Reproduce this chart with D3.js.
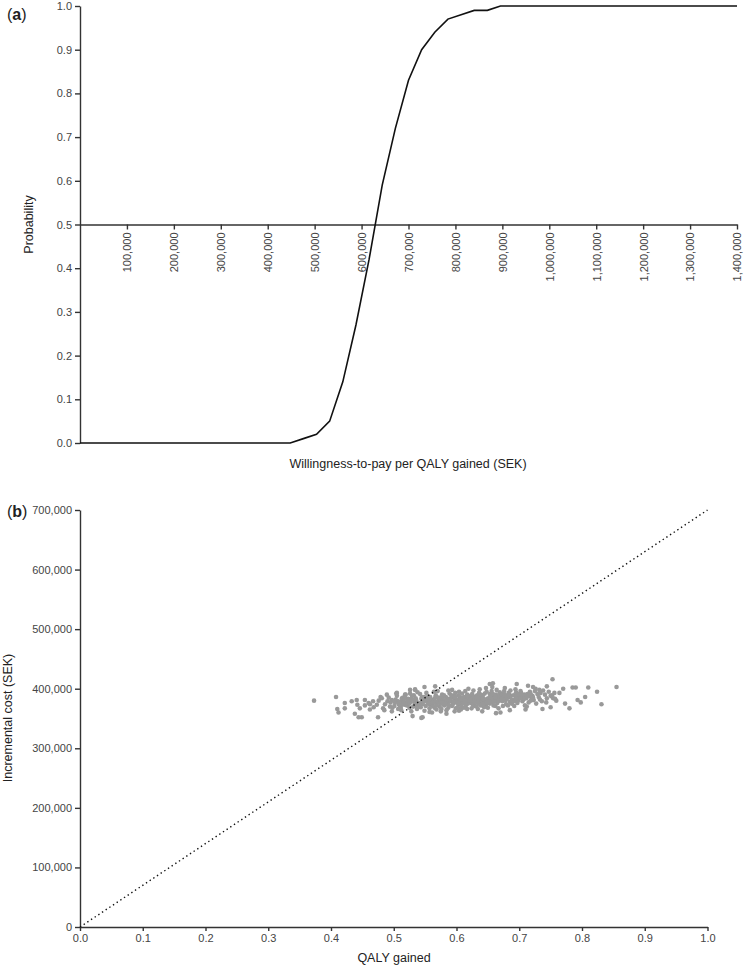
<!DOCTYPE html>
<html>
<head>
<meta charset="utf-8">
<script src="https://cdn.jsdelivr.net/npm/d3@7"></script>
<style>
  body { margin: 0; background: #fff; }
  svg { display: block; font-family: "Liberation Sans", Arial, sans-serif; }
  .axis path, .axis line { stroke: #333; stroke-width: 1.4; }
  .axis text { fill: #444; font-size: 11px; }
  .lbl { fill: #222; font-size: 12.5px; }
</style>
</head>
<body>
<script>
// Panel (a): acceptability curve
var wtp = [0, 28000, 56000, 84000, 112000, 140000, 168000, 196000, 224000, 252000,
  280000, 308000, 336000, 364000, 392000, 420000, 448000, 476000, 504000, 532000,
  560000, 588000, 616000, 644000, 672000, 700000, 728000, 756000, 784000, 812000,
  840000, 868000, 896000, 924000, 952000, 980000, 1008000, 1036000, 1064000, 1092000,
  1120000, 1148000, 1176000, 1204000, 1232000, 1260000, 1288000, 1316000, 1344000, 1372000, 1400000];
var probability = [0, 0, 0, 0, 0, 0, 0, 0, 0, 0,
  0, 0, 0, 0, 0, 0, 0, 0.01, 0.02, 0.05,
  0.14, 0.27, 0.42, 0.59, 0.72, 0.83, 0.90, 0.94, 0.97, 0.98,
  0.99, 0.99, 1, 1, 1, 1, 1, 1, 1, 1,
  1, 1, 1, 1, 1, 1, 1, 1, 1, 1, 1];
var wtpTicks = [100000, 200000, 300000, 400000, 500000, 600000, 700000,
  800000, 900000, 1000000, 1100000, 1200000, 1300000, 1400000];
var probTicks = [0, 0.1, 0.2, 0.3, 0.4, 0.5, 0.6, 0.7, 0.8, 0.9, 1.0];

// Panel (b): cost-effectiveness plane, [QALY gained, incremental cost in thousands SEK]
var qalyTicks = [0, 0.1, 0.2, 0.3, 0.4, 0.5, 0.6, 0.7, 0.8, 0.9, 1.0];
var costTicks = [0, 100000, 200000, 300000, 400000, 500000, 600000, 700000];
var threshold = [[0, 0], [1, 700000]];
var simOutliers = [
  [0.373,380],[0.408,386],[0.410,366],[0.412,360],[0.422,376],[0.422,367],[0.433,379],[0.441,381],
  [0.442,373],[0.446,367],[0.438,358],[0.444,352],[0.449,352],[0.454,381],[0.454,372],[0.460,376],
  [0.462,365],[0.467,379],[0.473,373],[0.475,352],[0.481,384],[0.483,367],[0.489,390],[0.490,379],
  [0.494,370],[0.497,362],[0.497,381],[0.505,393],[0.507,379],[0.513,384],[0.510,370],[0.518,390],
  [0.526,398],[0.534,398],[0.530,354],[0.544,351],[0.549,403],[0.534,399],[0.566,404],[0.546,352],
  [0.561,360],[0.584,358],[0.604,363],[0.641,362],[0.653,408],[0.658,409],[0.663,359],[0.670,360],
  [0.685,364],[0.696,408],[0.710,365],[0.714,405],[0.722,403],[0.732,398],[0.737,366],[0.744,404],
  [0.750,369],[0.750,388],[0.754,384],[0.757,383],[0.753,416],[0.764,393],[0.770,400],[0.773,375],
  [0.780,367],[0.785,402],[0.790,402],[0.793,381],[0.798,377],[0.805,386],[0.810,402],[0.824,395],
  [0.831,374],[0.855,403],[0.462,374],[0.468,369],[0.476,380],[0.479,386],[0.486,374],[0.492,385],
  [0.495,377],[0.498,368],[0.485,364]
];
var simCore = [
  [0.501,371],[0.503,382],[0.505,388],[0.507,366],[0.502,377],[0.508,374],[0.504,392],
  [0.511,369],[0.513,379],[0.515,385],[0.517,373],[0.519,390],[0.512,364],[0.516,381],[0.518,376],
  [0.521,372],[0.523,383],[0.525,368],[0.527,378],[0.529,388],[0.522,375],[0.526,392],[0.528,362],[0.524,380],
  [0.531,370],[0.533,377],[0.535,384],[0.537,366],[0.539,374],[0.532,389],[0.536,380],[0.538,394],[0.534,372],
  [0.541,376],[0.543,369],[0.545,386],[0.547,381],[0.549,363],[0.542,391],[0.546,374],[0.548,378],[0.544,383],[0.540,372],
  [0.551,371],[0.553,380],[0.555,387],[0.557,367],[0.559,376],[0.552,393],[0.556,383],[0.558,373],[0.554,378],[0.550,385],[0.557,361],
  [0.561,374],[0.563,382],[0.565,368],[0.567,389],[0.569,378],[0.562,371],[0.566,385],[0.568,365],[0.564,395],[0.560,380],[0.567,376],
  [0.571,377],[0.573,370],[0.575,384],[0.577,390],[0.579,373],[0.572,381],[0.576,366],[0.578,386],[0.574,375],[0.570,396],[0.575,362],[0.579,380],
  [0.581,372],[0.583,386],[0.585,378],[0.587,368],[0.589,392],[0.582,380],[0.586,375],[0.588,383],[0.584,364],[0.580,389],[0.587,397],[0.583,376],
  [0.591,379],[0.593,371],[0.595,388],[0.597,383],[0.599,367],[0.592,385],[0.596,376],[0.598,393],[0.594,374],[0.590,381],[0.597,362],[0.593,398],
  [0.601,380],[0.603,373],[0.605,387],[0.607,377],[0.609,392],[0.602,369],[0.606,384],[0.608,375],[0.604,395],[0.600,382],[0.607,365],[0.603,389],[0.609,379],
  [0.611,378],[0.613,386],[0.615,372],[0.617,390],[0.619,381],[0.612,368],[0.616,383],[0.618,375],[0.614,396],[0.610,385],[0.617,366],[0.613,380],[0.619,400],
  [0.621,384],[0.623,376],[0.625,391],[0.627,380],[0.629,371],[0.622,388],[0.626,373],[0.628,386],[0.624,367],[0.620,379],[0.627,397],[0.623,382],
  [0.631,382],[0.633,389],[0.635,375],[0.637,386],[0.639,378],[0.632,370],[0.636,393],[0.638,381],[0.634,366],[0.630,387],[0.637,399],[0.633,377],[0.639,372],
  [0.641,386],[0.643,378],[0.645,392],[0.647,373],[0.649,383],[0.642,389],[0.646,380],[0.648,395],[0.644,369],[0.640,381],[0.647,401],[0.643,375],
  [0.651,384],[0.653,391],[0.655,377],[0.657,388],[0.659,372],[0.652,381],[0.656,396],[0.658,379],[0.654,386],[0.650,368],[0.657,403],[0.653,375],
  [0.661,383],[0.663,390],[0.665,376],[0.667,385],[0.669,394],[0.662,371],[0.666,380],[0.668,388],[0.664,398],[0.660,378],[0.667,367],
  [0.671,386],[0.673,379],[0.675,392],[0.677,383],[0.679,374],[0.672,389],[0.676,396],[0.678,380],[0.674,371],[0.670,384],[0.677,401],
  [0.681,385],[0.683,393],[0.685,378],[0.687,388],[0.689,381],[0.682,372],[0.686,397],[0.688,375],[0.684,390],[0.680,383],
  [0.691,389],[0.693,382],[0.695,394],[0.697,376],[0.699,386],[0.692,371],[0.696,391],[0.698,380],[0.694,399],
  [0.701,387],[0.703,393],[0.705,379],[0.707,385],[0.709,372],[0.702,396],[0.706,382],[0.708,390],
  [0.711,384],[0.713,391],[0.715,377],[0.717,395],[0.719,386],[0.712,370],[0.716,389],[0.718,380],
  [0.721,388],[0.723,381],[0.725,396],[0.727,375],[0.729,391],[0.722,385],[0.726,400],
  [0.731,386],[0.734,393],[0.736,379],[0.738,397],[0.733,382],
  [0.741,390],[0.744,384],[0.747,395],[0.743,377],
  [0.752,389],[0.756,393],[0.759,380],
  [0.515,377],[0.525,375],[0.535,379],[0.545,378],[0.555,375],[0.565,380],[0.575,379],[0.585,381],
  [0.595,378],[0.605,381],[0.615,380],[0.625,384],[0.635,383],[0.645,382],[0.655,383],[0.665,387],
  [0.675,385],[0.685,386],[0.695,385],[0.705,389],[0.715,388],
  [0.518,385],[0.528,383],[0.538,370],[0.548,386],[0.558,386],[0.568,372],[0.578,377],[0.588,372],
  [0.598,386],[0.608,370],[0.618,388],[0.628,377],[0.638,390],[0.648,377],[0.658,391],[0.668,380],
  [0.678,389],[0.688,380],[0.698,391],[0.708,383],[0.718,392],
  [0.512,373],[0.522,380],[0.532,382],[0.542,373],[0.552,382],[0.562,377],[0.572,385],[0.582,375],
  [0.592,389],[0.602,376],[0.612,376],[0.622,380],[0.632,385],[0.642,384],[0.652,378],[0.662,386],
  [0.672,382],[0.682,389],[0.692,379],[0.702,384],[0.712,387],[0.722,381]
];

var W = 744, H = 966;
var svg = d3.select("body").append("svg").attr("width", W).attr("height", H);

// ---------- panel (a)
var xa = d3.scaleLinear().domain([0, 1400000]).range([80, 737]);
var ya = d3.scaleLinear().domain([0, 1]).range([443, 6]);

svg.append("g").attr("class", "axis")
  .attr("transform", "translate(80,0)")
  .call(d3.axisLeft(ya).tickValues(probTicks).tickFormat(d3.format(".1f")).tickSize(5).tickSizeOuter(0));

var gxa = svg.append("g").attr("class", "axis")
  .attr("transform", "translate(0," + ya(0.5) + ")")
  .call(d3.axisBottom(xa).tickValues(wtpTicks).tickFormat(d3.format(",")).tickSize(5).tickSizeOuter(0));
gxa.selectAll(".tick text")
  .attr("transform", "rotate(-90)")
  .attr("text-anchor", "end")
  .attr("x", -8).attr("y", 0).attr("dy", "0.35em");

var line = d3.line().x(function (d, i) { return xa(wtp[i]); }).y(function (d) { return ya(d); });
svg.append("path").datum(probability)
  .attr("d", line).attr("fill", "none").attr("stroke", "#111").attr("stroke-width", 1.6);

svg.append("text").attr("class", "lbl").attr("text-anchor", "middle")
  .attr("transform", "translate(33," + ya(0.5) + ") rotate(-90)").text("Probability");
svg.append("text").attr("class", "lbl").attr("text-anchor", "middle")
  .attr("x", 408).attr("y", 468).text("Willingness-to-pay per QALY gained (SEK)");
svg.append("text").attr("x", 7).attr("y", 20).attr("font-size", 16).attr("fill", "#222")
  .html("(<tspan font-weight='bold'>a</tspan>)");

// ---------- panel (b)
var xb = d3.scaleLinear().domain([0, 1]).range([80, 707.5]);
var yb = d3.scaleLinear().domain([0, 700000]).range([927, 510]);

svg.append("g").attr("class", "axis")
  .attr("transform", "translate(80,0)")
  .call(d3.axisLeft(yb).tickValues(costTicks).tickFormat(d3.format(",")).tickSize(5).tickSizeOuter(0));
svg.append("g").attr("class", "axis")
  .attr("transform", "translate(0,927)")
  .call(d3.axisBottom(xb).tickValues(qalyTicks).tickFormat(d3.format(".1f")).tickSize(4).tickSizeOuter(0));

svg.append("g").selectAll("circle")
  .data(simOutliers.concat(simCore))
  .enter().append("circle")
  .attr("cx", function (d) { return xb(d[0]); })
  .attr("cy", function (d) { return yb(d[1] * 1000); })
  .attr("r", 2.3)
  .attr("fill", "#999");

svg.append("path").datum(threshold)
  .attr("d", d3.line().x(function (d) { return xb(d[0]); }).y(function (d) { return yb(d[1]); }))
  .attr("fill", "none").attr("stroke", "#111").attr("stroke-width", 1.4)
  .attr("stroke-dasharray", "1.4,3");

svg.append("text").attr("class", "lbl").attr("text-anchor", "middle")
  .attr("transform", "translate(12,718) rotate(-90)").text("Incremental cost (SEK)");
svg.append("text").attr("class", "lbl").attr("text-anchor", "middle")
  .attr("x", 394).attr("y", 962).text("QALY gained");
svg.append("text").attr("x", 7).attr("y", 517).attr("font-size", 16).attr("fill", "#222")
  .html("(<tspan font-weight='bold'>b</tspan>)");
</script>
</body>
</html>
